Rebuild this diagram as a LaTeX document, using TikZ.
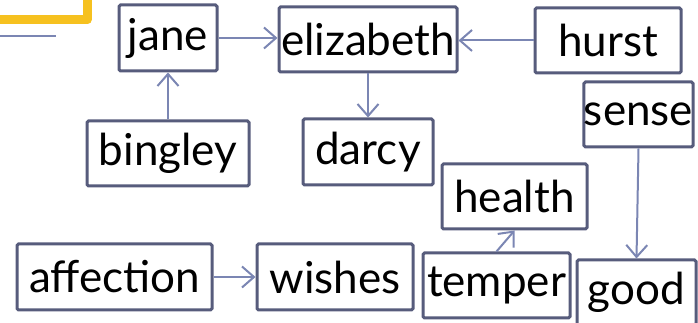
\documentclass[tikz,border=0pt]{standalone}
\usepackage{fontspec}
\setmainfont{Lato}
\usetikzlibrary{arrows.meta}
\definecolor{boxcol}{HTML}{575C7C}
\definecolor{arrcol}{HTML}{7B86B3}
\definecolor{goldcol}{HTML}{F6C11F}
\tikzset{
  box/.style={draw=boxcol, line width=3pt, rounded corners=1.5pt, fill=white, inner sep=0pt, font=\fontsize{44}{48}\selectfont, text=black},
  conn/.style={draw=arrcol, line width=2pt, -{Straight Barb[length=12pt,width=21pt,line width=2pt]}}
}
\begin{document}
\begin{tikzpicture}[x=1pt,y=1pt]
\useasboundingbox (0,0) rectangle (698,323);
% decorations top-left
\draw[goldcol, line width=9pt, line join=round] (0,303) -- (87,303) -- (87,330);
\draw[arrcol, line width=2.5pt] (0,287) -- (56,287);
% nodes
\node[box, minimum width=98pt, minimum height=66pt] (jane) at (168,285) {jane};
\node[box, minimum width=178pt, minimum height=65pt] (elizabeth) at (368,283.5) {elizabeth};
\node[box, minimum width=146pt, minimum height=65pt] (hurst) at (608,282.5) {hurst};
\node[box, minimum width=109pt, minimum height=65pt] (sense) at (638.5,208.5) {sense};
\node[box, minimum width=162pt, minimum height=65pt] (bingley) at (168,169.5) {bingley};
\node[box, minimum width=130pt, minimum height=66pt] (darcy) at (368,171) {darcy};
\node[box, minimum width=145pt, minimum height=65pt] (health) at (514.5,126.5) {health};
\node[box, minimum width=147pt, minimum height=65pt] (temper) at (496.5,37.5) {temper};
\node[box, minimum width=119pt, minimum height=65pt] (good) at (636.5,30.5) {good};
\node[box, minimum width=195pt, minimum height=66pt] (affection) at (114.5,46) {affection};
\node[box, minimum width=156pt, minimum height=66pt] (wishes) at (335,46) {wishes};
% connectors
\draw[conn] (bingley.north) -- (jane.south);
\draw[conn] (jane.east) -- (elizabeth.west |- jane.east);
\draw[conn] (hurst.west) -- (elizabeth.east |- hurst.west);
\draw[conn] (elizabeth.south) -- (darcy.north);
\draw[conn] (sense.south) -- (good.north);
\draw[conn] (temper.north) -- (health.south);
\draw[conn] (affection.east) -- (wishes.west);
\end{tikzpicture}
\end{document}
